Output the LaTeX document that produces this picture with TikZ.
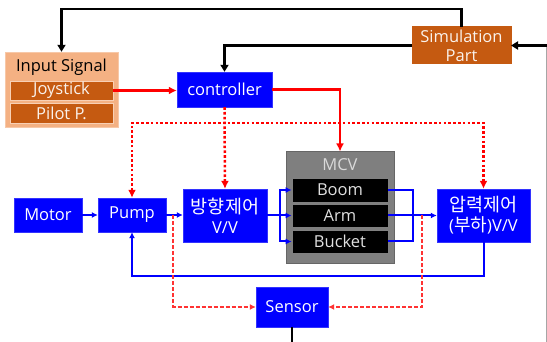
\documentclass[tikz,border=0pt]{standalone}
\usepackage{fontspec}
\setmainfont{Open Sans}
\newfontfamily\kr{Noto Sans CJK KR}
\usetikzlibrary{arrows.meta}
\definecolor{bbl}{HTML}{0000FF}
\definecolor{lor}{HTML}{F4B183}
\definecolor{dor}{HTML}{C55A11}
\definecolor{mgr}{HTML}{7F7F7F}
\definecolor{rr}{HTML}{FF0000}
\tikzset{
  fs/.style={font=\fontsize{16.5}{19}\selectfont},
  bbox/.style={fill=bbl, draw=bbl!80!white, text=white, fs, inner sep=0pt, align=center},
  obox/.style={fill=dor, draw=lor!60!white, line width=0.8pt, text=white!92!dor, fs, inner sep=0pt, align=center},
  kbox/.style={fill=black, draw=black!50, line width=0.8pt, text=white!88!black, fs, inner sep=0pt, minimum width=96pt},
  blk/.style={draw=black, line width=2.5pt, -{Triangle[length=7pt,width=8pt]}},
  blu/.style={draw=bbl, line width=2pt, -{Latex[length=6pt,width=6pt]}},
  bluline/.style={draw=bbl, line width=2pt},
  red/.style={draw=rr, line width=2.5pt, -{Latex[length=8pt,width=8pt]}},
  reddot/.style={draw=rr, line width=2.5pt, dash pattern=on 2.6pt off 2.2pt},
  reddash/.style={draw=rr!80!white, line width=1.5pt, dash pattern=on 4pt off 2pt, -{Latex[length=6pt,width=6pt]}},
}
\begin{document}
\begin{tikzpicture}[x=1pt,y=-1pt]
\useasboundingbox (0,0) rectangle (547,342);
% Input signal group
\node[fill=lor, draw=lor!70!white, minimum width=113pt, minimum height=75pt, inner sep=0pt] (in) at (61.5,89.5) {};
\node[fs, text=black] (intxt) at (61.5,67.5) {Input Signal};
\node[obox, minimum width=103pt, minimum height=19pt] (joy) at (61.5,90.5) {Joystick};
\node[obox, minimum width=103pt, minimum height=20pt] (pil) at (61.5,113) {Pilot P.};
% controller, simulation
\node[bbox, minimum width=95pt, minimum height=35pt] (ctrl) at (224.5,89.5) {controller};
\node[obox, minimum width=99pt, minimum height=37pt, line width=0pt, draw=dor, font=\fontsize{16.5}{19}\selectfont] (sim) at (461.5,45.5) {Simulation\\Part};
% row
\node[bbox, minimum width=68pt, minimum height=34pt] (motor) at (48,215) {Motor};
\node[bbox, minimum width=68pt, minimum height=34pt] (pump) at (132,215) {Pump};
\node[bbox, minimum width=84pt, minimum height=53pt, font=\fontsize{16.5}{20}\selectfont] (dir) at (225,215.5) {{\kr\fontsize{18.5}{20}\selectfont 방향제어}\\V/V};
\node[fill=mgr, draw=black!60, line width=1pt, minimum width=108pt, minimum height=112pt, inner sep=0pt] (mcv) at (340,208) {};
\node[fs, text=white!85!black] (mcvtxt) at (340,164.5) {MCV};
\node[kbox, minimum height=24pt] (boom) at (340,190) {Boom};
\node[kbox, minimum height=23pt] (arm) at (340,215.5) {Arm};
\node[kbox, minimum height=23pt] (bucket) at (340,241.5) {Bucket};
\node[bbox, minimum width=93pt, minimum height=53pt, font=\fontsize{16.5}{20}\selectfont] (ap) at (483.5,215.5) {{\kr\fontsize{18.5}{20}\selectfont 압력제어}\\({\kr\fontsize{18}{20}\selectfont 부하})V/V};
\node[bbox, minimum width=72pt, minimum height=40pt] (sensor) at (292,307) {Sensor};
% coordinates
\coordinate (tl) at (61.5,9);
\coordinate (tr) at (461.5,9);
\coordinate (rb) at (546.5,342);
\coordinate (rt) at (546.5,45.5);
\coordinate (sb) at (292,342);
\coordinate (dl) at (132,123);
\coordinate (dr) at (483.5,123);
\coordinate (sp) at (280,215.5);
\coordinate (ob) at (413,190);
\coordinate (obb) at (413,241.5);
\coordinate (fb) at (483.5,276);
\coordinate (fp) at (132,276);
\coordinate (pd) at (173,215.5);
\coordinate (ad) at (422,215.5);
% black lines
\draw[blk] (sim.north) -- (tr) -- (tl) -- (in.north);
\draw[blk] (sim.west) -| (ctrl.north);
\draw[draw=black!35, line width=1pt] (rb) -- (rt);
\draw[blk] (rt) -- (sim.east);
\draw[draw=black, line width=2.5pt] (sensor.south) -- (sb);
% red
\draw[red] (joy.east) -- (joy.east -| ctrl.west);
\draw[red] (ctrl.east) -| (mcv.north);
\draw[reddot, -{Latex[length=8pt,width=8pt]}] (ctrl.south) -- (dir.north);
\draw[reddot, {Latex[length=8pt,width=8pt]}-{Latex[length=8pt,width=8pt]}] (pump.north) -- (dl) -- (dr) -- (ap.north);
% blue
\draw[blu] (motor.east) -- (pump.west);
\draw[blu] (pump.east) -- (pump.east -| dir.west);
\draw[blu] (dir.east) -- (arm.west);
\draw[blu] (sp) |- (boom.west);
\draw[blu] (sp) |- (bucket.west);
\draw[bluline] (boom.east) -- (ob) -- (obb) -- (bucket.east);
\draw[blu] (arm.east) -- (ap.west);
\draw[blu] (ap.south) -- (fb) -- (fp) -- (pump.south);
% red dashed
\draw[reddash] (pd) |- (sensor.west);
\draw[reddash] (ad) |- (sensor.east);
\end{tikzpicture}
\end{document}
